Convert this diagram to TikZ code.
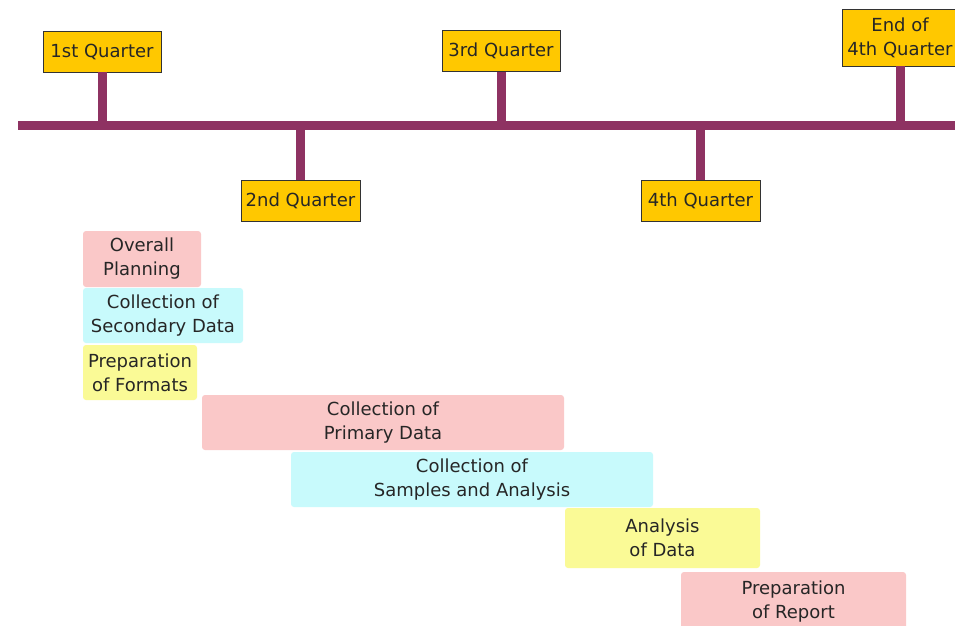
\documentclass[tikz,border=0pt]{standalone}
\usepackage{fontspec}
\setmainfont{DejaVu Sans}
\definecolor{lineC}{RGB}{142,50,98}
\definecolor{gold}{RGB}{255,200,0}
\definecolor{pinkC}{RGB}{250,200,200}
\definecolor{cyanC}{RGB}{200,250,252}
\definecolor{yellC}{RGB}{250,250,150}
\begin{document}
\begin{tikzpicture}[x=1pt,y=-1pt,
  qbox/.style={draw=black!80, line width=0.8pt, fill=gold, inner sep=0pt, align=center, font=\fontsize{18}{24}\selectfont, text=black!85},
  task/.style={inner sep=0pt, rounded corners=3pt, align=center, font=\fontsize{18}{24}\selectfont, text=black!85},
  stem/.style={draw=lineC, line width=9pt}]
\useasboundingbox (0,0) rectangle (955,625);
\fill[white] (0,0) rectangle (955,625);
% quarter boxes
\node[qbox, minimum width=118pt, minimum height=41pt] (q1) at (102,51.5) {1st Quarter};
\node[qbox, minimum width=119pt, minimum height=41pt] (q2) at (300.5,200.5) {2nd Quarter};
\node[qbox, minimum width=118pt, minimum height=41pt] (q3) at (501,51) {3rd Quarter};
\node[qbox, minimum width=119pt, minimum height=41pt] (q4) at (700.5,200.5) {4th Quarter};
\node[qbox, minimum width=116pt, minimum height=57pt] (q5) at (900,37.5) {End of\\4th Quarter};
% timeline
\coordinate (tl) at (18,125);
\coordinate (tr) at (955,125);
\draw[draw=lineC, line width=9pt] (tl) -- (tr);
\draw[stem] (q1.south) -- (q1.south |- tl);
\draw[stem] (q2.north) -- (q2.north |- tl);
\draw[stem] (q3.south) -- (q3.south |- tl);
\draw[stem] (q4.north) -- (q4.north |- tl);
\draw[stem] (q5.south) -- (q5.south |- tl);
% tasks
\node[task, fill=pinkC, minimum width=118pt, minimum height=56pt] (t1) at (142,259) {Overall\\Planning};
\node[task, fill=cyanC, minimum width=160pt, minimum height=55pt] (t2) at (163,315.5) {Collection of\\Secondary Data};
\node[task, fill=yellC, minimum width=114pt, minimum height=55pt] (t3) at (140,372.5) {Preparation\\of Formats};
\node[task, fill=pinkC, minimum width=362pt, minimum height=55pt] (t4) at (383,422.5) {Collection of\\Primary Data};
\node[task, fill=cyanC, minimum width=362pt, minimum height=55pt] (t5) at (472,479.5) {Collection of\\Samples and Analysis};
\node[task, fill=yellC, minimum width=195pt, minimum height=60pt] (t6) at (662.5,538) {Analysis\\of Data};
\node[task, fill=pinkC, minimum width=225pt, minimum height=60pt] (t7) at (793.5,602) {Preparation\\of Report};
\end{tikzpicture}
\end{document}
